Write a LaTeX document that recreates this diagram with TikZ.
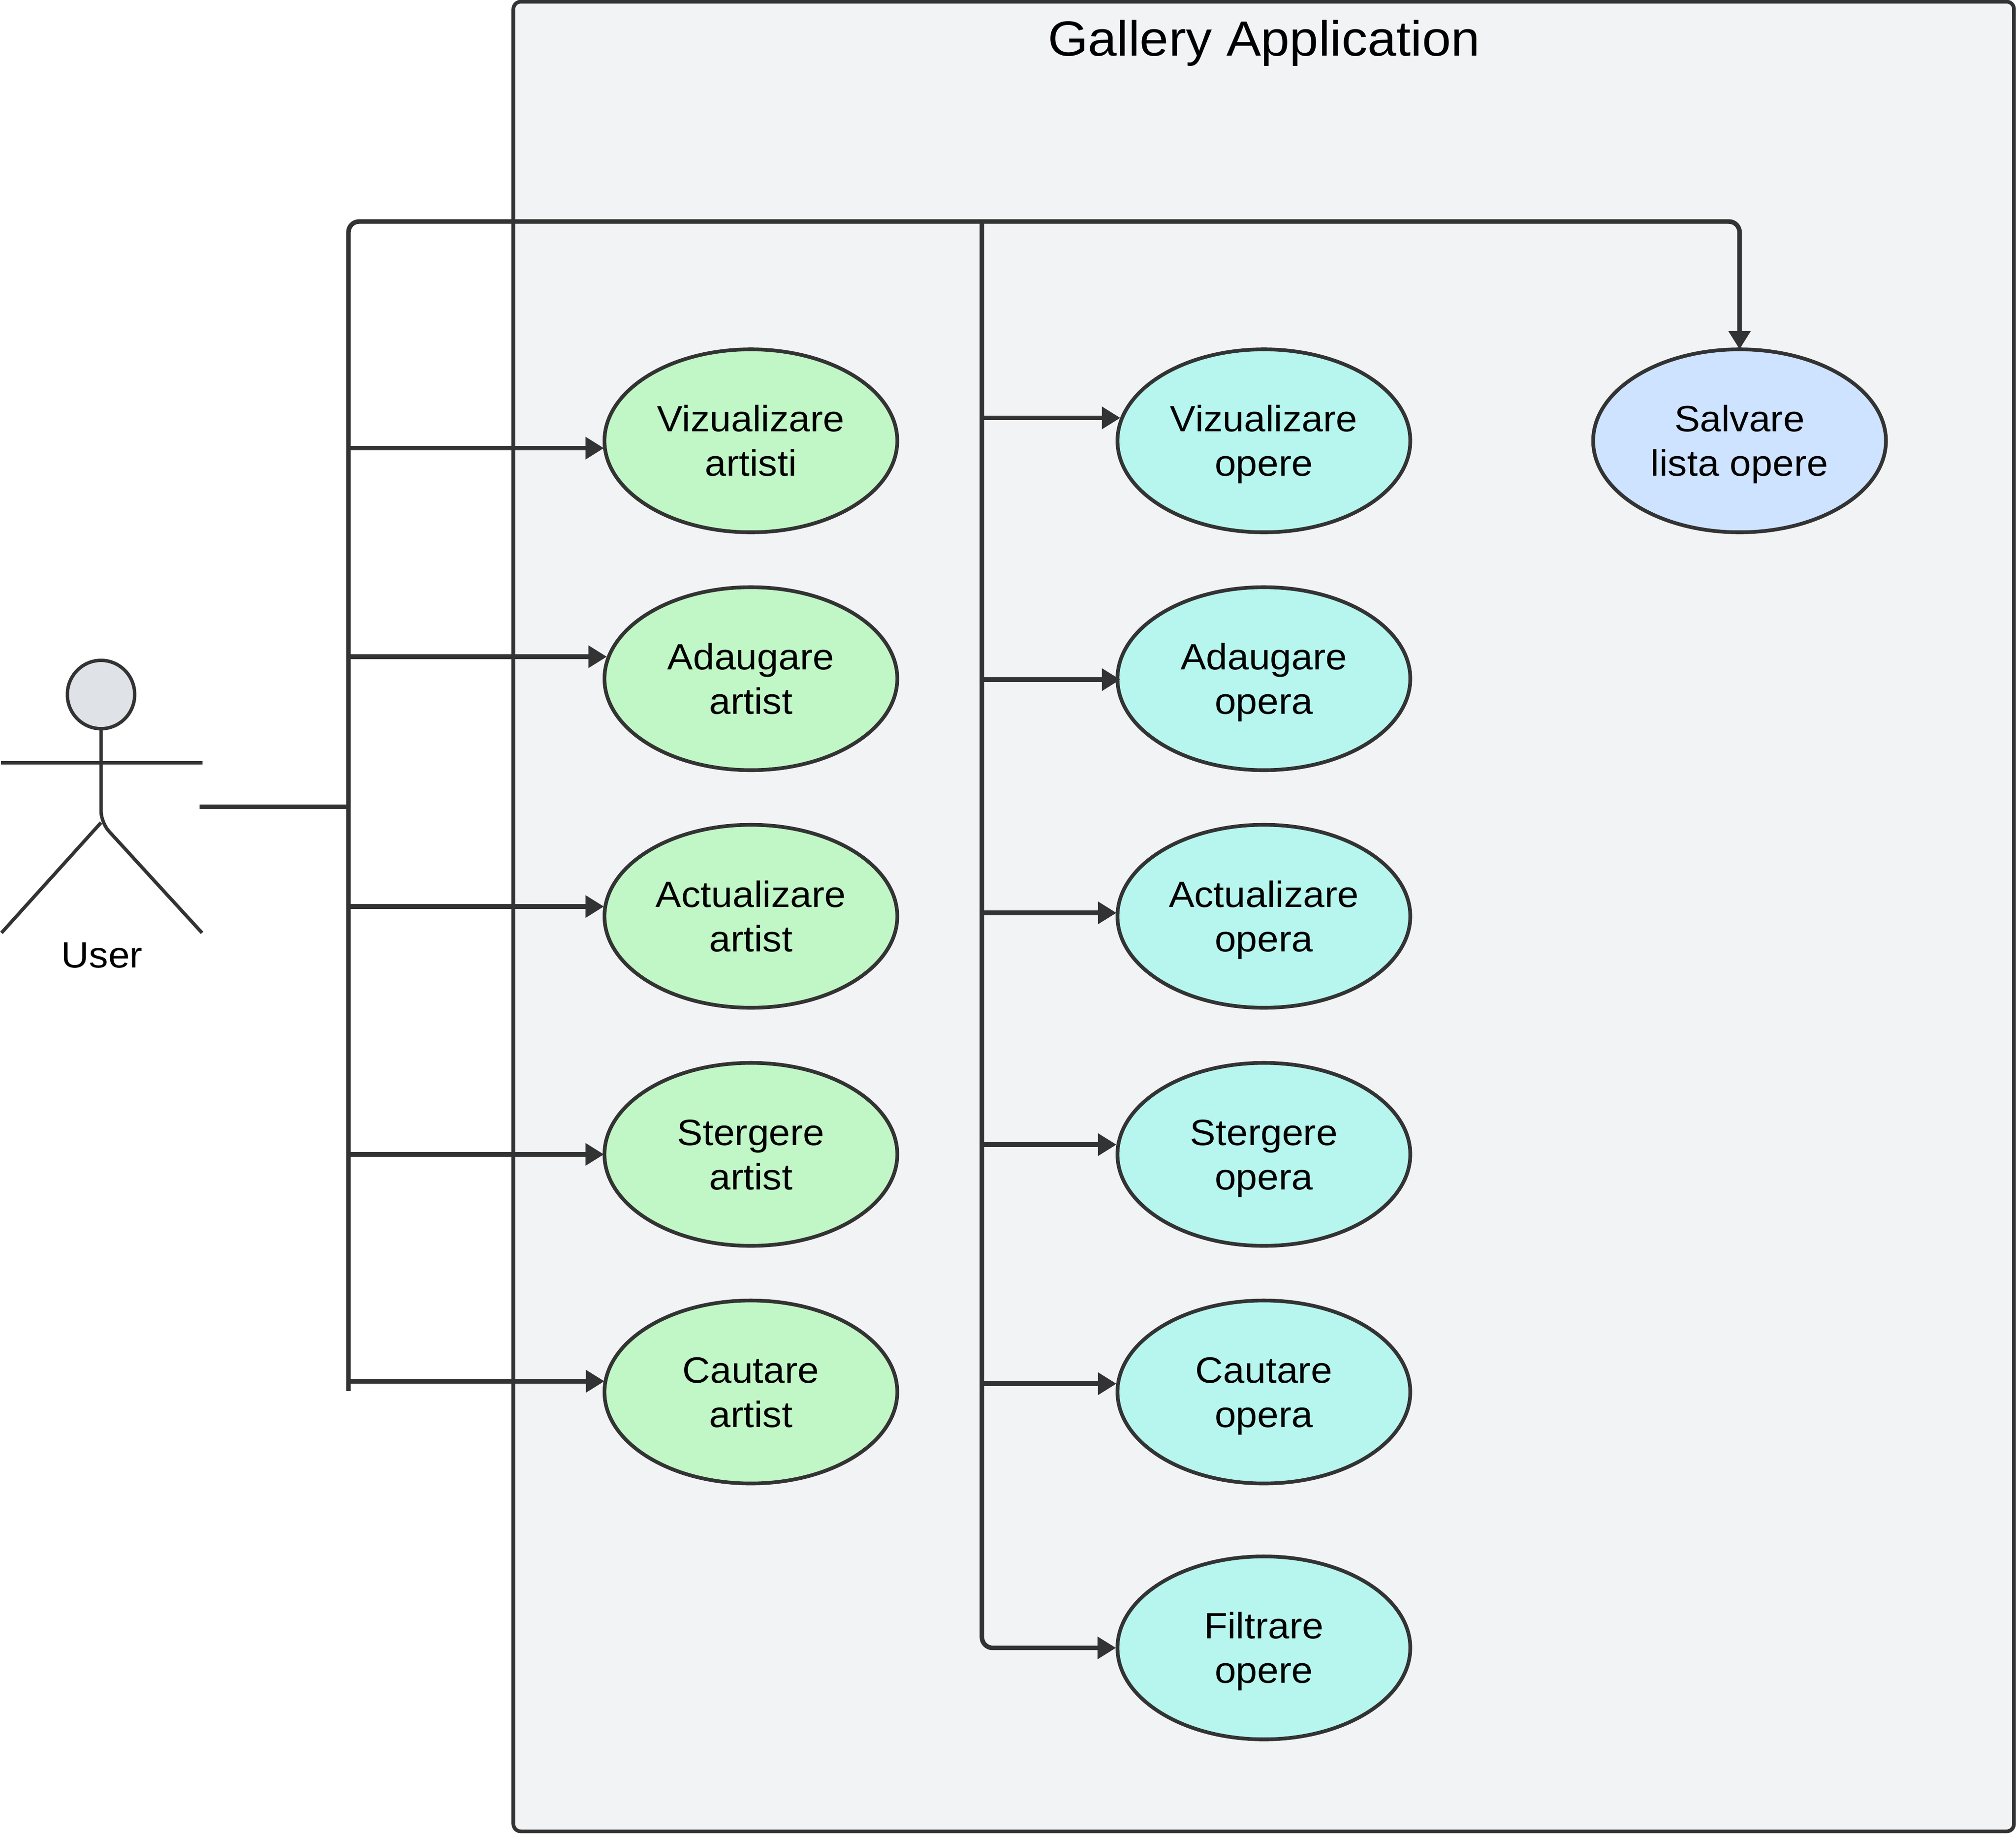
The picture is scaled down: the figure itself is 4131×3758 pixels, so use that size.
\documentclass[tikz,border=0pt]{standalone}
\usepackage{fontspec}
\setmainfont[FakeStretch=1.05]{Liberation Sans}
\usetikzlibrary{shapes.geometric,arrows.meta,calc}
\definecolor{ink}{HTML}{333333}
\definecolor{framefill}{HTML}{F2F3F5}
\definecolor{headfill}{HTML}{DFE2E7}
\definecolor{greenfill}{HTML}{C1F7C6}
\definecolor{tealfill}{HTML}{B6F6EE}
\definecolor{bluefill}{HTML}{CEE3FF}
\newcommand{\caselabel}[2]{\rule{0pt}{20pt}#1\\#2\rule[-6.75pt]{0pt}{6.75pt}}
\tikzset{
  x=0.25pt,y=-0.25pt,
  usecase/.style={ellipse,draw=ink,line width=1.9pt,minimum width=150pt,minimum height=93.75pt,inner sep=0pt,outer sep=0pt,align=center,font=\fontsize{18.75}{22.75}\selectfont,text=black},
  gcase/.style={usecase,fill=greenfill},
  tcase/.style={usecase,fill=tealfill},
  bcase/.style={usecase,fill=bluefill},
  conn/.style={draw=ink,line width=2.35pt},
  arrowconn/.style={conn,-{Triangle[length=9.5pt,width=11pt,fill=ink]}},
  actorline/.style={draw=ink,line width=1.75pt},
}
\begin{document}
\begin{tikzpicture}
\useasboundingbox (0,0) rectangle (4131,3758);
\node[draw=ink,fill=framefill,line width=1.9pt,rounded corners=3.75pt,inner sep=0pt,outer sep=0pt,minimum width=768.7pt,minimum height=937.5pt,anchor=north west] (frame) at (1052,3.5) {};
\node[font=\fontsize{25.3}{30}\selectfont,text=black] (title) at (2590,88) {Gallery Application};
% use cases
\node[gcase] (g1) at (1538.6,903.5) {\caselabel{Vizualizare}{artisti}};
\node[gcase] (g2) at (1538.6,1391) {\caselabel{Adaugare}{artist}};
\node[gcase] (g3) at (1538.6,1878) {\caselabel{Actualizare}{artist}};
\node[gcase] (g4) at (1538.6,2366) {\caselabel{Stergere}{artist}};
\node[gcase] (g5) at (1538.6,2853) {\caselabel{Cautare}{artist}};
\node[tcase] (t1) at (2589.8,903.5) {\caselabel{Vizualizare}{opere}};
\node[tcase] (t2) at (2589.8,1391) {\caselabel{Adaugare}{opera}};
\node[tcase] (t3) at (2589.8,1878) {\caselabel{Actualizare}{opera}};
\node[tcase] (t4) at (2589.8,2366) {\caselabel{Stergere}{opera}};
\node[tcase] (t5) at (2589.8,2853) {\caselabel{Cautare}{opera}};
\node[tcase] (t6) at (2589.8,3377.5) {\caselabel{Filtrare}{opere}};
\node[bcase] (b1) at (3564.5,903.5) {\caselabel{Salvare}{lista opere}};
% actor
\draw[actorline,fill=headfill] (207,1423.5) ellipse [x radius=69,y radius=70] node (head) {};
\draw[actorline,rounded corners=6pt] (207,1493) -- (207,1686) -- (414,1912);
\draw[actorline] (207,1686) -- (3,1912);
\draw[actorline] (2,1563) -- (415,1563);
\node[font=\fontsize{18.75}{22.75}\selectfont,text=black] (user) at (209,1958) {User};
% connector junctions
\coordinate (linkstart) at (409,1653.6);
\coordinate (trunkA) at (714,1653.6);
\coordinate (trunkAtop) at (714,454);
\coordinate (trunkAbot) at (714,2851);
\coordinate (trunkB) at (2012,454);
\coordinate (ga1) at ($(g1.west)+(-1,15)$);
\coordinate (ga2) at ($(g2.west)+(5,-45)$);
\coordinate (ga3) at ($(g3.west)+(-1,-20)$);
\coordinate (ga4) at ($(g4.west)+(-1,0)$);
\coordinate (ga5) at ($(g5.west)+(0,-22)$);
\coordinate (ta1) at ($(t1.west)+(6,-47)$);
\coordinate (ta2) at ($(t2.west)+(6,2)$);
\coordinate (ta3) at ($(t3.west)+(-2,-7)$);
\coordinate (ta4) at ($(t4.west)+(-2,-20)$);
\coordinate (ta5) at ($(t5.west)+(-2,-17)$);
\coordinate (ta6) at ($(t6.west)+(-3,0)$);
% connectors
\draw[conn] (linkstart) -- (trunkA);
\draw[arrowconn,rounded corners=5.5pt] (trunkAbot) -- (trunkAtop) -- (b1.north |- trunkAtop) -- (b1.north);
\draw[arrowconn,rounded corners=5.5pt] (trunkB) -- (trunkB |- ta6) -- (ta6);
\foreach \c in {ga1,ga2,ga3,ga4,ga5} \draw[arrowconn] (trunkA |- \c) -- (\c);
\foreach \c in {ta1,ta2,ta3,ta4,ta5} \draw[arrowconn] (trunkB |- \c) -- (\c);
\end{tikzpicture}
\end{document}
